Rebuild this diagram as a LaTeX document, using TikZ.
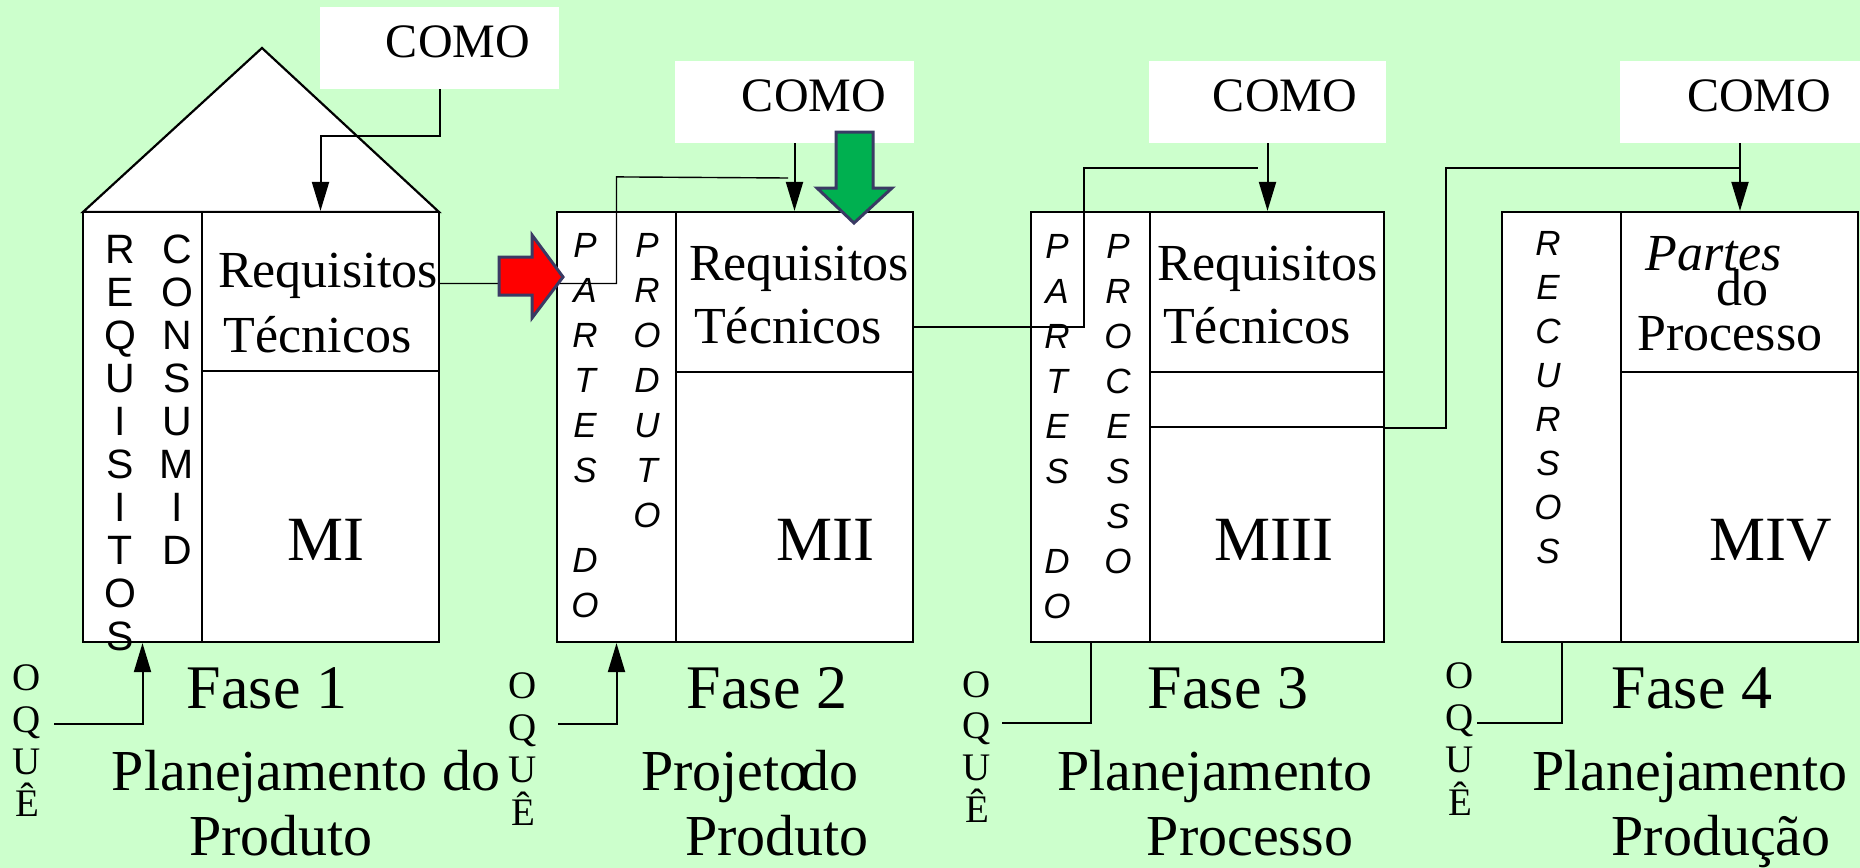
\documentclass[tikz,border=0pt]{standalone}
\usepackage{fontspec}
\setmainfont{Liberation Serif}
\newfontfamily\arialf{Liberation Sans}
\usetikzlibrary{arrows.meta,fit}
\newcommand{\fsz}[1]{\fontsize{#1pt}{#1pt}\selectfont}
\definecolor{bg}{RGB}{204,255,204}
\definecolor{navy}{RGB}{58,58,100}
\definecolor{bgreen}{RGB}{0,176,80}
\begin{document}
\begin{tikzpicture}[x=0.5pt,y=-0.5pt,
  cell/.style={draw, line width=1.1pt, fill=white, inner sep=0pt},
  comobox/.style={fill=white, inner sep=0pt},
  txt/.style={anchor=base, inner sep=0pt},
  como/.style={txt, font=\fsz{24}},
  req/.style={txt, font=\fsz{26}},
  mlab/.style={txt, font=\fsz{31.5}},
  fase/.style={txt, font=\fsz{31}},
  desc/.style={txt, font=\fsz{29}},
  oq/.style={txt, font=\fsz{19.5}},
  vup/.style={txt, font=\arialf\fsz{20.5}},
  vit/.style={txt, font=\arialf\itshape\fsz{17.5}},
  conn/.style={line width=1pt},
  arr/.style={conn, -{Triangle[length=14.5pt,width=8.5pt]}},
  link/.style={line width=0.7pt},
  blockarrow/.style={line width=1.5pt, draw=navy, line join=miter}
]
\path[use as bounding box, fill=bg] (0,0) rectangle (1860,868);

% ---------- roof of module 1
\filldraw[fill=white, line width=1.1pt, line join=miter] (83,212) -- (262,48) -- (439,212) -- cycle;

% ---------- boxes
\node[cell, fit={(83,212) (202,642)}] (m1L) {};
\node[cell, fit={(202,212) (439,371)}] (m1Rt) {};
\node[cell, fit={(202,371) (439,642)}] (m1Rb) {};

\node[cell, fit={(557,212) (676,642)}] (m2L) {};
\node[cell, fit={(676,212) (913,372)}] (m2Rt) {};
\node[cell, fit={(676,372) (913,642)}] (m2Rb) {};

\node[cell, fit={(1031,212) (1150,642)}] (m3L) {};
\node[cell, fit={(1150,212) (1384,372)}] (m3Rt) {};
\node[cell, fit={(1150,372) (1384,427)}] (m3Rm) {};
\node[cell, fit={(1150,427) (1384,642)}] (m3Rb) {};

\node[cell, fit={(1502,212) (1621,642)}] (m4L) {};
\node[cell, fit={(1621,212) (1858,372)}] (m4Rt) {};
\node[cell, fit={(1621,372) (1858,642)}] (m4Rb) {};

% ---------- COMO boxes
\node[comobox, fit={(320,7) (559,89)}] (como1) {};
\node[comobox, fit={(675,61) (914,143)}] (como2) {};
\node[comobox, fit={(1149,61) (1386,143)}] (como3) {};
\node[comobox, fit={(1620,61) (1860,143)}] (como4) {};
\node[como] (c1t) at (458,57) {COMO};
\node[como] (c2t) at (814,111) {COMO};
\node[como] (c3t) at (1285,111) {COMO};
\node[como] (c4t) at (1759,111) {COMO};

% ---------- module 1 texts
\node[req] (m1req) at (328,287) {Requisitos};
\node[req] (m1tec) at (317.5,352) {Técnicos};
\node[mlab] (m1lab) at (326,560) {MI};
\node[fase] (f1) at (267,708) {Fase 1};
\node[desc] (d1a) at (306,790) {Planejamento do};
\node[desc] (d1b) at (281,855) {Produto};
\foreach \ch [count=\i from 0] in {R,E,Q,U,I,S,I,T,O,S}
  \node[vup] (rq\i) at (120.5,{263+43*\i}) {\ch};
\foreach \ch [count=\i from 0] in {C,O,N,S,U,M,I,D}
  \node[vup] (cs\i) at (177,{263+43*\i}) {\ch};
\foreach \ch/\y [count=\i] in {O/690,Q/732,U/774,Ê/816}
  \node[oq] (oqa\i) at (27,\y) {\ch};

% ---------- module 2 texts
\node[req] (m2req) at (799,280) {Requisitos};
\node[req] (m2tec) at (788,343) {Técnicos};
\node[mlab] (m2lab) at (825,560) {MII};
\node[fase] (f2) at (767,708) {Fase 2};
\node[desc] (d2a) at (750,790) {Projet\kern0pt o\kern-0.14em do};
\node[desc] (d2b) at (777,855) {Produto};
\foreach \ch/\k in {P/0,A/1,R/2,T/3,E/4,S/5,D/7,O/8}
  \node[vit] (pb\k) at (585,{257+45*\k}) {\ch};
\foreach \ch [count=\i from 0] in {P,R,O,D,U,T,O}
  \node[vit] (pd\i) at (647,{257+45*\i}) {\ch};
\foreach \ch/\y [count=\i] in {O/698,Q/740,U/782,Ê/825}
  \node[oq] (oqb\i) at (523,\y) {\ch};

% ---------- module 3 texts
\node[req] (m3req) at (1267.5,280) {Requisitos};
\node[req] (m3tec) at (1257,343) {Técnicos};
\node[mlab] (m3lab) at (1274,560) {MIII};
\node[fase] (f3) at (1228,708) {Fase 3};
\node[desc] (d3a) at (1215,790) {Planejamento};
\node[desc] (d3b) at (1250,855) {Processo};
\foreach \ch/\k in {P/0,A/1,R/2,T/3,E/4,S/5,D/7,O/8}
  \node[vit] (pc\k) at (1057,{258+45*\k}) {\ch};
\foreach \ch [count=\i from 0] in {P,R,O,C,E,S,S,O}
  \node[vit] (pr\i) at (1118,{258+45*\i}) {\ch};
\foreach \ch/\y [count=\i] in {O/697,Q/738,U/780,Ê/822}
  \node[oq] (oqc\i) at (977,\y) {\ch};

% ---------- module 4 texts
\node[txt, font=\itshape\fsz{26}] (m4pa) at (1713.5,270) {Partes};
\node[txt, font=\fsz{26}] (m4do) at (1742.5,305) {do};
\node[txt, font=\fsz{26}] (m4pr) at (1730,350) {Processo};
\node[mlab] (m4lab) at (1771,560) {MIV};
\node[fase] (f4) at (1692,708) {Fase 4};
\node[desc] (d4a) at (1690,790) {Planejamento};
\node[desc] (d4b) at (1721,855) {Produção};
\foreach \ch [count=\i from 0] in {R,E,C,U,R,S,O,S}
  \node[vit] (rc\i) at (1548,{255+44*\i}) {\ch};
\foreach \ch/\y [count=\i] in {O/688,Q/730,U/772,Ê/815}
  \node[oq] (oqd\i) at (1460,\y) {\ch};

% ---------- connectors
\coordinate (q1) at (54,724);
\coordinate (q2) at (558,724);
\coordinate (q3) at (1002,723);
\coordinate (q4) at (1477,723);
\coordinate (j2) at (788,178);
\coordinate (k3) at (1084,168);
\coordinate (j3) at (1258,168);
\coordinate (k4) at (1446,168);

\draw[arr] (como1.south) -- ++(0,47) -| (m1Rt.north);
\draw[arr] (como2.south) -- (como2.south |- m2Rt.north);
\draw[arr] (como3.south) -- (como3.south |- m3Rt.north);
\draw[arr] (como4.south) -- (como4.south |- m4Rt.north);

\draw[arr] (q1) -| (m1L.south);
\draw[arr] (q2) -| (m2L.south);
\draw[conn] (m3L.south) |- (q3);
\draw[conn] (m4L.south) |- (q4);

\draw[link] ([yshift=4pt]m1Rt.east) -| ([yshift=17pt]m2L.north) -- (j2);
\draw[link] ([yshift=-17.5pt]m2Rt.east) -| (k3) -- (j3);
\draw[link] (m3Rm.south east) -| (k4) -- (como4.south |- k4);

% ---------- block arrows
\filldraw[blockarrow, fill=red] (499,257) -- (532,257) -- (532,235) -- (563,277) -- (532,318) -- (532,295) -- (499,295) -- cycle;
\filldraw[blockarrow, fill=bgreen] (836,132) -- (873,132) -- (873,188) -- (892,188) -- (854,223) -- (817,188) -- (836,188) -- cycle;
\end{tikzpicture}
\end{document}
